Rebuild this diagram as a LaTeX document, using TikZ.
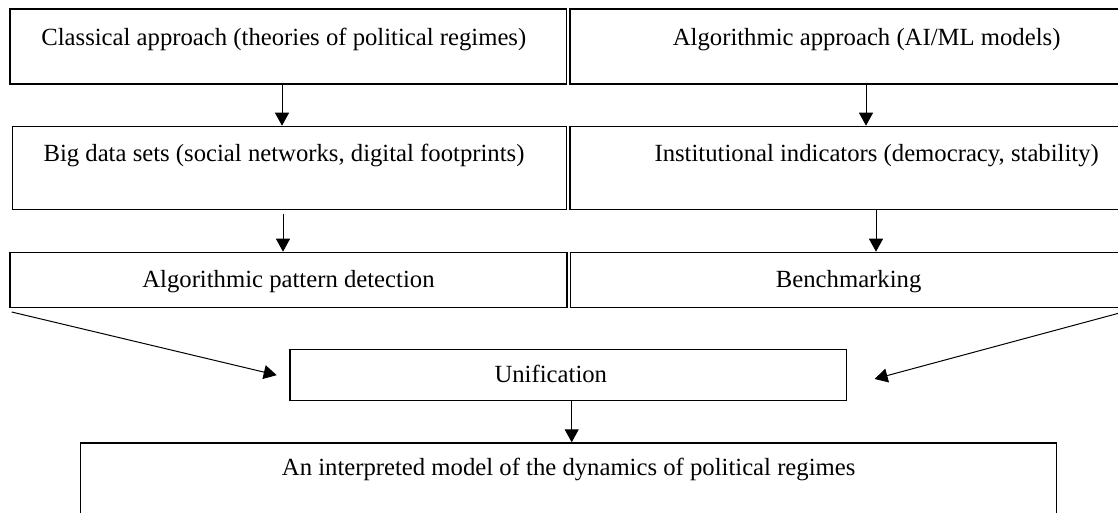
\documentclass[tikz,border=0pt]{standalone}
\usepackage{fontspec}
\setmainfont{Liberation Serif}
\usetikzlibrary{arrows.meta,calc}
\begin{document}
\begin{tikzpicture}[x=1pt,y=-1pt,
  box/.style={draw, line width=1.3pt, inner sep=0pt, anchor=north west,
    font=\fontsize{24.7pt}{30pt}\selectfont},
  arr/.style={line width=1pt, -{Triangle[length=13pt,width=14pt]}}]
\useasboundingbox (0,0) rectangle (1118,513);
\clip (0,0) rectangle (1118,513);
% row 1
\node[box, minimum width=556.7pt, text height=37pt, text depth=38pt] (c1) at (9.3,8.3)
  {Classical approach (theories of political regimes)\hspace*{9pt}};
\node[box, minimum width=593.4pt, text height=37pt, text depth=38pt] (r1) at (569.3,8.3)
  {Algorithmic approach (AI/ML models)};
% row 2
\node[box, minimum width=554.3pt, text height=35pt, text depth=48.3pt] (c2) at (11.7,125.7)
  {Big data sets (social networks, digital footprints)\hspace*{11pt}};
\node[box, minimum width=613.4pt, text height=35pt, text depth=48.3pt] (r2) at (569.3,125.7)
  {Institutional indicators (democracy, stability)};
% row 3
\node[box, minimum width=557pt, text height=35pt, text depth=20pt] (c3) at (9.3,251.7)
  {Algorithmic pattern detection};
\node[box, minimum width=557pt, text height=35pt, text depth=20pt] (r3) at (569.5,251.7)
  {Benchmarking};
% unification
\node[box, minimum width=556.7pt, text height=33pt, text depth=18pt] (u) at (289.3,349)
  {Unification\hspace*{35pt}};
% model
\node[box, minimum width=976pt, text height=33pt, text depth=67pt] (m) at (80,442.3)
  {An interpreted model of the dynamics of political regimes};
% arrow x positions
\coordinate (xa) at (282,0);
\coordinate (xb) at (866,0);
\coordinate (xc) at (283,0);
\coordinate (xd) at (876,0);
\coordinate (xg) at (571.7,0);
\draw[arr] (c1.south -| xa) -- (c2.north -| xa);
\draw[arr] (r1.south -| xb) -- (r2.north -| xb);
\draw[arr] ($(c2.south -| xc)+(0,3.5)$) -- (c3.north -| xc);
\draw[arr] (r2.south -| xd) -- (r3.north -| xd);
\coordinate (ls) at ($(c3.south west)+(2.4,4)$);
\coordinate (le) at ($(u.west)+(-12.6,0)$);
\coordinate (rs) at ($(r3.south east)+(4,1.7)$);
\coordinate (re) at ($(u.east)+(27.3,3.8)$);
\draw[arr] (ls) -- (le);
\draw[arr] (rs) -- (re);
\draw[arr] (u.south -| xg) -- (m.north -| xg);
\end{tikzpicture}
\end{document}
